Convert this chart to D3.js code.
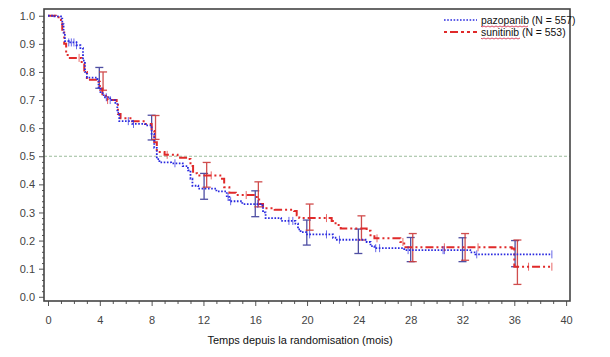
<!DOCTYPE html>
<html><head><meta charset="utf-8">
<script src="https://cdn.jsdelivr.net/npm/d3@7"></script>
<style>
body{margin:0;background:#fff;}
svg{display:block;font-family:"Liberation Sans",Arial,sans-serif;}
</style></head><body>
<svg id="c" width="610" height="357"></svg>
<script>
// ---- data ----
const xTicks = [0,4,8,12,16,20,24,28,32,36,40];
const yTicks = [0,0.1,0.2,0.3,0.4,0.5,0.6,0.7,0.8,0.9,1.0];
const seriesNames = ["pazopanib (N = 557)", "sunitinib (N = 553)"];
const xTitle = "Temps depuis la randomisation (mois)";

const pazTime = [0,0.5,1.0,1.1,1.2,1.3,1.6,2.2,2.5,2.7,2.85,3.0,3.8,3.9,4.05,4.3,4.8,5.2,5.35,5.5,6.5,7.5,8.0,8.2,8.4,8.6,9.5,10.4,10.8,11.0,11.15,11.6,13.0,13.8,14.0,15.0,16.4,16.6,16.8,18.0,19.1,19.3,19.5,20.0,22.0,22.3,24.6,24.9,25.2,27.5,32.6,33.0,38.9];
const pazSurv = [1.0,0.998,0.99,0.97,0.94,0.91,0.905,0.895,0.885,0.84,0.80,0.78,0.775,0.745,0.725,0.71,0.70,0.69,0.655,0.625,0.615,0.61,0.58,0.53,0.49,0.478,0.475,0.465,0.45,0.42,0.395,0.385,0.375,0.355,0.34,0.33,0.325,0.30,0.28,0.27,0.26,0.24,0.23,0.222,0.21,0.203,0.195,0.18,0.173,0.166,0.158,0.151,0.151];

const sunTime = [0,0.6,1.0,1.1,1.25,1.4,1.6,2.6,2.8,3.0,3.9,4.0,4.2,4.6,5.3,5.4,5.6,6.5,7.5,8.0,8.2,8.4,9.0,10.0,10.8,11.0,11.2,11.5,13.3,13.6,14.0,14.5,16.0,16.3,16.6,17.5,19.0,19.2,19.4,21.9,22.2,22.6,24.6,24.9,25.2,27.2,27.5,35.8,36.0,38.9];
const sunSurv = [1.0,0.995,0.985,0.95,0.90,0.86,0.85,0.83,0.80,0.772,0.765,0.74,0.715,0.70,0.69,0.65,0.635,0.625,0.615,0.59,0.55,0.515,0.505,0.495,0.49,0.465,0.44,0.432,0.42,0.39,0.37,0.362,0.355,0.33,0.315,0.31,0.305,0.29,0.28,0.27,0.255,0.243,0.235,0.215,0.208,0.195,0.176,0.172,0.107,0.107];

const pazCiTime = [3.96,8.0,12.05,16.0,19.98,23.96,28.0,32.0,36.06];
const pazCiHigh = [0.816,0.646,0.439,0.377,0.273,0.241,0.211,0.21,0.2];
const pazCiLow  = [0.742,0.558,0.347,0.285,0.184,0.154,0.125,0.125,0.107];

const sunCiTime = [4.25,8.3,12.25,16.24,20.2,24.2,28.16,32.2,36.24];
const sunCiHigh = [0.80,0.645,0.478,0.409,0.33,0.288,0.225,0.225,0.202];
const sunCiLow  = [0.735,0.56,0.39,0.32,0.237,0.202,0.125,0.13,0.044];

const pazCensor = [1.6,1.8,2.0,2.2,4.5,4.8,6.2,6.6,9.8,13.9,14.1,16.2,18.6,18.9,20.2,21.5,22.5,25.3,25.6,27.8,30.5,30.6,33.1,38.9];
const sunCensor = [2.4,4.6,9.2,12.6,15.3,21.5,25.4,27.4,30.6,33.2,37.1,38.9];

const medianLevel = 0.5;

// ---- layout ----
const svg = d3.select("#c");
const L = 44, R = 570, T = 9, B = 301;
const x = d3.scaleLinear().domain([-0.31, 40.3]).range([L, R]);
const y = d3.scaleLinear().domain([-0.015, 1.024]).range([B, T]);

const BLUE = "#2a2ae0", RED = "#e02a2a", BLUE_CI = "#3c3c9a", RED_CI = "#cc3a3a";

// median reference line
svg.append("line").attr("x1", L).attr("x2", R).attr("y1", y(medianLevel)).attr("y2", y(medianLevel))
  .attr("stroke", "#9cbc9c").attr("stroke-width", 1).attr("stroke-dasharray", "3,2");

// axes
const xAxis = d3.axisBottom(x).tickValues(xTicks).tickSize(5).tickFormat(d3.format("d"));
const xMinor = d3.axisBottom(x).tickValues(d3.range(0, 41, 1).filter(v => v % 4 !== 0)).tickSize(3).tickFormat("");
const yAxis = d3.axisLeft(y).tickValues(yTicks).tickSize(5).tickFormat(d3.format(".1f"));
const yMinor = d3.axisLeft(y).tickValues(d3.range(0, 101, 2).map(v => v / 100).filter(v => Math.round(v * 100) % 10 !== 0)).tickSize(2).tickFormat("");

function styleAxis(g) {
  g.select(".domain").remove();
  g.selectAll(".tick line").attr("stroke", "#555");
  g.selectAll(".tick text").attr("fill", "#444").style("font-size", "11px")
    .style("font-family", "'Liberation Sans',Arial,sans-serif");
}
svg.append("g").attr("transform", `translate(0,${B})`).call(xMinor).call(styleAxis);
svg.append("g").attr("transform", `translate(0,${B})`).call(xAxis).call(styleAxis)
  .selectAll(".tick text").attr("dy", "1.35em");
svg.append("g").attr("transform", `translate(${L},0)`).call(yMinor).call(styleAxis);
svg.append("g").attr("transform", `translate(${L},0)`).call(yAxis).call(styleAxis)
  .selectAll(".tick text").attr("dx", "-1px");

// frame
svg.append("rect").attr("x", L).attr("y", T).attr("width", R - L).attr("height", B - T)
  .attr("fill", "none").attr("stroke", "#444").attr("stroke-width", 1.6);

// x title
svg.append("text").attr("x", 300).attr("y", 344).attr("text-anchor", "middle")
  .style("font-size", "11px").attr("fill", "#111").text(xTitle);

// CI bars
function ciBars(times, lo, hi, color) {
  const g = svg.append("g").attr("stroke", color).attr("stroke-width", 1.3).attr("opacity", 0.9);
  times.forEach((t, i) => {
    const xx = x(t);
    g.append("line").attr("x1", xx).attr("x2", xx).attr("y1", y(hi[i])).attr("y2", y(lo[i]));
    g.append("line").attr("x1", xx - 4).attr("x2", xx + 4).attr("y1", y(hi[i])).attr("y2", y(hi[i]));
    g.append("line").attr("x1", xx - 4).attr("x2", xx + 4).attr("y1", y(lo[i])).attr("y2", y(lo[i]));
  });
}
ciBars(pazCiTime, pazCiLow, pazCiHigh, BLUE_CI);
ciBars(sunCiTime, sunCiLow, sunCiHigh, RED_CI);

// KM curves
const line = d3.line().x(d => x(d[0])).y(d => y(d[1])).curve(d3.curveStepAfter);
svg.append("path").datum(sunTime.map((t, i) => [t, sunSurv[i]]))
  .attr("fill", "none").attr("stroke", RED).attr("stroke-width", 2)
  .attr("stroke-dasharray", "8,3,2,3,2,3").attr("d", line);
svg.append("path").datum(pazTime.map((t, i) => [t, pazSurv[i]]))
  .attr("fill", "none").attr("stroke", BLUE).attr("stroke-width", 1.8)
  .attr("stroke-dasharray", "1.6,1.6").attr("d", line);

// censor marks
function survAt(times, surv, t) {
  let v = surv[0];
  for (let i = 0; i < times.length; i++) { if (times[i] <= t) v = surv[i]; }
  return v;
}
function censors(cs, times, surv, color) {
  const g = svg.append("g").attr("stroke", color).attr("stroke-width", 1).attr("opacity", 0.7);
  cs.forEach(t => {
    const yy = y(survAt(times, surv, t));
    g.append("line").attr("x1", x(t)).attr("x2", x(t)).attr("y1", yy - 4).attr("y2", yy + 4);
  });
}
censors(pazCensor, pazTime, pazSurv, BLUE);
censors(sunCensor, sunTime, sunSurv, RED);

// legend
const lg = svg.append("g");
const FS = "10.4px";
const legItems = [
  {name: seriesNames[0], color: BLUE, dash: "1.6,1.6", w: 1.6, y: 21},
  {name: seriesNames[1], color: RED, dash: "3,3,8,3,3,3", w: 2, y: 33}
];
legItems.forEach(it => {
  lg.append("line").attr("x1", 444).attr("x2", 477).attr("y1", it.y - 1).attr("y2", it.y - 1)
    .attr("stroke", it.color).attr("stroke-width", it.w).attr("stroke-dasharray", it.dash);
  lg.append("text").attr("x", 481).attr("y", it.y + 3).style("font-size", FS).attr("fill", "#111").text(it.name);
  const word = it.name.split(" ")[0];
  const tmp = lg.append("text").attr("x", -100).attr("y", -100).style("font-size", FS).text(word);
  const w = tmp.node().getComputedTextLength();
  tmp.remove();
  let p = `M481,${it.y + 5}`;
  for (let k = 0; k * 2 < w; k++) p += ` L${481 + k * 2 + 1},${it.y + (k % 2 ? 5 : 6)}`;
  lg.append("path").attr("d", p).attr("fill", "none").attr("stroke", "#d02040").attr("stroke-width", 0.8);
});
</script>
</body></html>
